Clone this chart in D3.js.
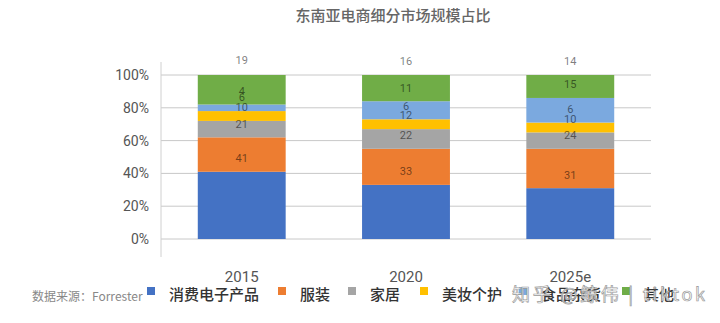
<!DOCTYPE html>
<html><head><meta charset="utf-8">
<script src="https://cdn.jsdelivr.net/npm/d3@7"></script>
<style>body{margin:0;background:#fff}svg{display:block}</style>
</head><body>
<svg id="c" width="720" height="323"></svg>
<script>
const title = "东南亚电商细分市场规模占比";
const years = ["2015", "2020", "2025e"];
const seriesNames = ["消费电子产品", "服装", "家居", "美妆个护", "食品杂货", "其他"];
const seriesColors = ["#4472C4", "#ED7D31", "#A5A5A5", "#FFC000", "#7BA9DF", "#70AD47"];
const electronics = [41, 33, 31];
const apparel = [21, 22, 24];
const home = [10, 12, 10];
const beauty = [6, 6, 6];
const grocery = [4, 11, 15];
const others = [19, 16, 14];
const yTicks = [0, 0.2, 0.4, 0.6, 0.8, 1.0];
const source = "数据来源：Forrester";
const watermark = "知乎 @鲸伟 | tiktok";

const series = [electronics, apparel, home, beauty, grocery, others];
const svg = d3.select("#c");
const cjk = "'Noto Sans CJK SC', 'Noto Sans', sans-serif";
const num = "Roboto, 'Noto Sans', sans-serif";

const x = d3.scaleBand().domain(years).range([160, 652]).paddingInner(0.465).paddingOuter(0.23);
const y = d3.scaleLinear().domain([0, 1]).range([239, 75]);

// title
svg.append("text").attr("x", 393).attr("y", 21).attr("text-anchor", "middle")
  .attr("font-family", cjk).attr("font-size", 15).attr("font-weight", 500)
  .attr("fill", "#666").text(title);

// gridlines
svg.append("g").selectAll("line").data(yTicks).join("line")
  .attr("x1", 161).attr("x2", 651)
  .attr("y1", d => y(d)).attr("y2", d => y(d))
  .attr("stroke", "#c8c8c8").attr("stroke-width", 1);
// vertical axis line
svg.append("line").attr("x1", 161).attr("x2", 161).attr("y1", 62).attr("y2", 257)
  .attr("stroke", "#d0d0d0");

// y axis labels
const yAxis = d3.axisLeft(y).tickValues(yTicks).tickFormat(d3.format(".0%")).tickSize(0).tickPadding(0);
const ya = svg.append("g").attr("transform", "translate(149,0)").call(yAxis);
ya.select(".domain").remove();
ya.selectAll("text").attr("font-family", num).attr("font-size", 14).attr("fill", "#555");

// stacked bars
const stackData = years.map((yr, i) => {
  let cum = 0;
  return series.map((s, k) => {
    const v = s[i];
    const seg = { year: yr, k, v, y0: cum, y1: cum + v };
    cum += v;
    return seg;
  });
});
const flat = stackData.flat();
const totalOf = i => d3.sum(series, s => s[i]);

svg.append("g").selectAll("rect").data(flat).join("rect")
  .attr("x", d => x(d.year))
  .attr("width", x.bandwidth())
  .attr("y", d => y(Math.min(d.y1 / 100, 1)))
  .attr("height", d => y(d.y0 / 100) - y(Math.min(d.y1 / 100, 1)))
  .attr("fill", d => seriesColors[d.k]);

// value labels (placed above each segment's top edge, as in the reference)
svg.append("g").selectAll("text").data(flat).join("text")
  .attr("x", d => x(d.year) + x.bandwidth() / 2)
  .attr("y", d => y(d.y1 / 100) - 13.5)
  .attr("dy", "0.35em")
  .attr("text-anchor", "middle")
  .attr("font-family", num).attr("font-size", 11)
  .attr("fill", "#000").attr("fill-opacity", 0.52)
  .text(d => d.v);

// x labels
svg.append("g").selectAll("text").data(years).join("text")
  .attr("x", d => x(d) + x.bandwidth() / 2).attr("y", 282)
  .attr("text-anchor", "middle").attr("font-family", num).attr("font-size", 15)
  .attr("fill", "#555").text(d => d);

// source
svg.append("text").attr("x", 32).attr("y", 301).attr("font-family", cjk)
  .attr("font-size", 12).attr("fill", "#888").text(source);

// legend
const legendX = [147, 278, 348, 420, 519, 622];
const lg = svg.append("g").selectAll("g").data(seriesNames).join("g")
  .attr("transform", (d, i) => `translate(${legendX[i]},0)`);
lg.append("rect").attr("x", 0).attr("y", 287).attr("width", 8).attr("height", 8)
  .attr("fill", (d, i) => seriesColors[i]);
lg.append("text").attr("x", 22).attr("y", 300).attr("font-family", cjk)
  .attr("font-size", 15).attr("font-weight", 500).attr("fill", "#333").text(d => d);

// watermark
svg.append("text").attr("x", 512).attr("y", 301).attr("font-family", cjk)
  .attr("font-size", 18).attr("fill", "#fff").attr("fill-opacity", 0.75)
  .attr("stroke", "#999").attr("stroke-width", 0.7).attr("textLength", 193)
  .text(watermark);
</script>
</body></html>
